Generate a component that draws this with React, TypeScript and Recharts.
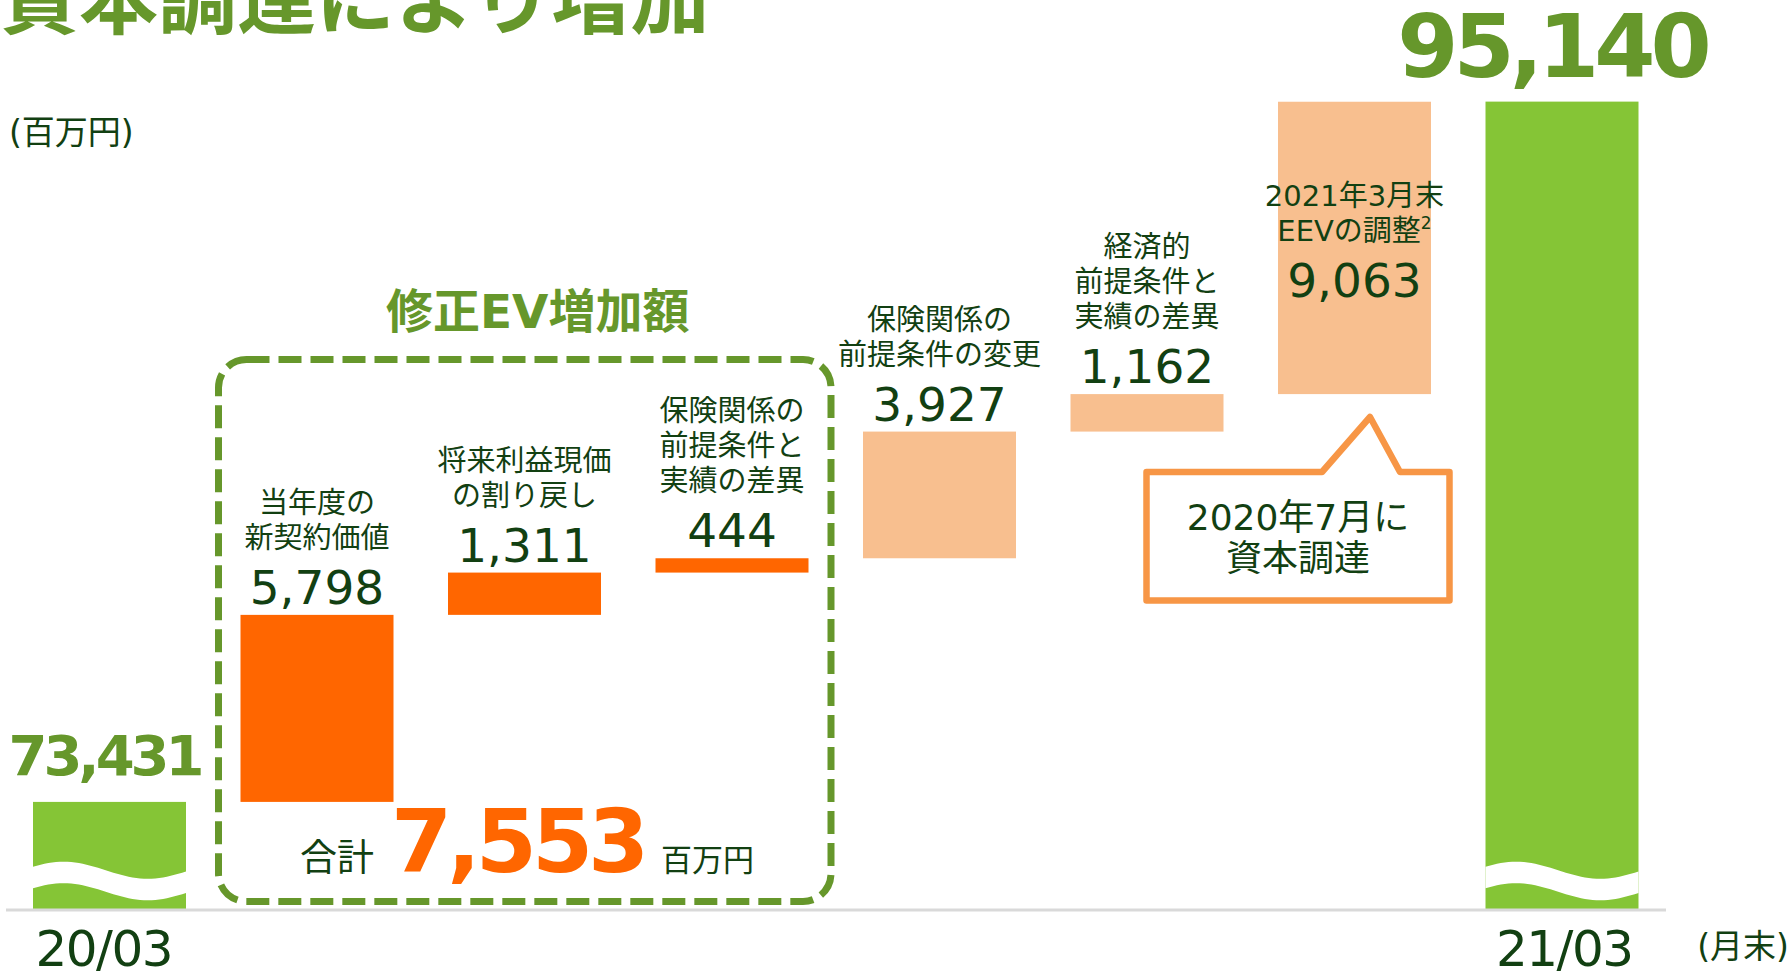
import React from 'react';
import { BarChart, Bar, XAxis, YAxis, Cell } from 'recharts';

// ---- data ----
const categories = [
  '20/03',
  '当年度の新契約価値',
  '将来利益現価の割り戻し',
  '保険関係の前提条件と実績の差異',
  '保険関係の前提条件の変更',
  '経済的前提条件と実績の差異',
  '2021年3月末EEVの調整',
  '21/03',
];
const values = [73431, 5798, 1311, 444, 3927, 1162, 9063, 95140];
const kinds = ['total', 'ev', 'ev', 'ev', 'other', 'other', 'other', 'total'];
const labelLines = [
  [],
  ['当年度の', '新契約価値'],
  ['将来利益現価', 'の割り戻し'],
  ['保険関係の', '前提条件と', '実績の差異'],
  ['保険関係の', '前提条件の変更'],
  ['経済的', '前提条件と', '実績の差異'],
  ['2021年3月末', 'EEVの調整'],
  [],
];
const footnoteMarks = ['', '', '', '', '', '', '2', ''];
const tickLabels = ['20/03', '', '', '', '', '', '', '21/03'];
const yDomain = [70080, 97980];

// ---- styles ----
const W = 1791;
const H = 972;
const MARGIN = { top: 10, right: 125, bottom: 2, left: 6 };
const X_AXIS_H = 60;
const PLOT_LEFT = MARGIN.left;
const PLOT_W = W - MARGIN.left - MARGIN.right;
const BAND = PLOT_W / categories.length;

const COLORS: Record<string, string> = { total: '#85c536', ev: '#ff6600', other: '#f8bf8f' };
const OLIVE = '#66972b';
const DARK = '#124012';
const CALLOUT = '#f79646';
const NUM_FONT = "'DejaVu Sans', 'Noto Sans CJK JP', sans-serif";
const JP_FONT = "'DejaVu Sans', 'Noto Sans CJK JP', sans-serif";
const JP_ONLY = "'Noto Sans CJK JP', sans-serif";

let running = 0;
const data = categories.map((name, i) => {
  let range: number[];
  if (kinds[i] === 'total') {
    range = [yDomain[0], values[i]];
    running = values[i];
  } else {
    range = [running, running + values[i]];
    running += values[i];
  }
  return {
    name,
    range,
    value: values[i],
    kind: kinds[i],
    lines: labelLines[i],
    mark: footnoteMarks[i],
    tick: tickLabels[i],
    idx: i,
  };
});

const evTotal = values.filter((_, i) => kinds[i] === 'ev').reduce((a, b) => a + b, 0);
const fmt = (v: number) => v.toLocaleString('en-US');

const BarShape = (props: any) => {
  const { x, y, width, height, payload } = props;
  const top = Math.min(y, y + height);
  const h = Math.abs(height);
  const bottom = top + h;
  const cx = x + width / 2;
  const fill = COLORS[payload.kind];
  const els: any[] = [<rect key="r" x={x} y={top} width={width} height={h} fill={fill} />];

  if (payload.kind === 'total') {
    // wavy break
    const n = 40;
    const up: string[] = [];
    const lo: string[] = [];
    for (let k = 0; k <= n; k++) {
      const u = k / n;
      const c = bottom - 29 - 8.5 * Math.cos((2 * Math.PI * (u - 0.2)) / 1.1);
      up.push(`${x + u * width},${c - 10.75}`);
      lo.unshift(`${x + u * width},${c + 10.75}`);
    }
    els.push(<polygon key="w" points={[...up, ...lo].join(' ')} fill="#ffffff" />);
    const isLast = payload.idx === categories.length - 1;
    els.push(
      <text
        key="t"
        x={isLast ? cx - 10 : cx - 5}
        y={isLast ? top - 25 : top - 27}
        textAnchor="middle"
        fontFamily={NUM_FONT}
        fontWeight={700}
        fontSize={isLast ? 88 : 56}
        letterSpacing={isLast ? -5 : -4}
        fill={OLIVE}
      >
        {fmt(payload.value)}
      </text>
    );
  } else {
    const inside = h > 200;
    const numBase = inside ? top + 195 : top - 11;
    els.push(
      <text key="n" x={cx} y={numBase} textAnchor="middle" fontFamily={NUM_FONT} fontSize={47} fill={DARK}>
        {fmt(payload.value)}
      </text>
    );
    const lines: string[] = payload.lines;
    lines.forEach((ln, k) => {
      const base = numBase - 56 - 35 * (lines.length - 1 - k);
      const isLastLine = k === lines.length - 1;
      els.push(
        <text key={'l' + k} x={cx} y={base} textAnchor="middle" fontFamily={JP_FONT} fontSize={29} fill={DARK}>
          {ln}
          {isLastLine && payload.mark ? (
            <tspan fontSize={17} dy={-12}>
              {payload.mark}
            </tspan>
          ) : null}
        </text>
      );
    });
  }
  return <g>{els}</g>;
};

const Tick = (props: any) => {
  const { x, y, index } = props;
  const label = tickLabels[index];
  if (!label) return <g />;
  const dx = index === 0 ? -6 : 2;
  return (
    <text x={x + dx} y={y + 48} textAnchor="middle" fontFamily={NUM_FONT} fontSize={50} letterSpacing={-1.5} fill={DARK}>
      {label}
    </text>
  );
};

export default function App() {
  const boxX1 = PLOT_LEFT + BAND * 1 + 5;
  const boxX2 = PLOT_LEFT + BAND * 4 - 5;
  const boxY1 = 359.5;
  const boxY2 = 901.5;
  const boxCx = (boxX1 + boxX2) / 2;

  const cL = 1146.5, cR = 1449.5, cT = 472, cB = 600.5;
  const calloutPath = `M ${cL} ${cT} L 1322 ${cT} L 1370 417 L 1400 ${cT} L ${cR} ${cT} L ${cR} ${cB} L ${cL} ${cB} Z`;

  return (
    <div style={{ position: 'absolute', left: 0, top: 0, width: W, height: H, background: '#fff' }}>
      <BarChart width={W} height={H} data={data} margin={MARGIN} barSize={153}>
        <XAxis
          dataKey="name"
          height={X_AXIS_H}
          tickLine={false}
          axisLine={{ stroke: '#d9d9d9', strokeWidth: 3 }}
          tick={<Tick />}
          interval={0}
        />
        <YAxis hide width={0} type="number" domain={yDomain} allowDataOverflow />
        <Bar dataKey="range" isAnimationActive={false} shape={<BarShape />}>
          {data.map((d, i) => (
            <Cell key={i} fill={COLORS[d.kind]} />
          ))}
        </Bar>
      </BarChart>
      <svg width={W} height={H} style={{ position: 'absolute', left: 0, top: 0, pointerEvents: 'none' }}>
        <text x={0} y={28} fontFamily={JP_ONLY} fontWeight={700} fontSize={79} fill={OLIVE}>
          資本調達により増加
        </text>
        <text x={9} y={144} fontFamily={JP_FONT} fontSize={33} fill={DARK}>
          (百万円)
        </text>
        <text x={1789} y={958} textAnchor="end" fontFamily={JP_FONT} fontSize={33} fill={DARK}>
          (月末)
        </text>
        <text x={boxCx + 13} y={328} textAnchor="middle" fontFamily={JP_FONT} fontWeight={700} fontSize={47} fill={OLIVE}>
          修正EV増加額
        </text>
        <rect
          x={boxX1}
          y={boxY1}
          width={boxX2 - boxX1}
          height={boxY2 - boxY1}
          rx={28}
          ry={28}
          fill="none"
          stroke={OLIVE}
          strokeWidth={7}
          strokeDasharray="23 9"
        />
        <text x={300} y={871} fontFamily={JP_ONLY} fontSize={37} fill={DARK}>
          合計
        </text>
        <text x={391} y={872} fontFamily={NUM_FONT} fontWeight={700} fontSize={88} letterSpacing={-5} fill="#ff6600">
          {fmt(evTotal)}
        </text>
        <text x={661} y={871} fontFamily={JP_ONLY} fontSize={31} fill={DARK}>
          百万円
        </text>
        <path d={calloutPath} fill="#fff" stroke={CALLOUT} strokeWidth={6.5} strokeLinejoin="round" />
        <text x={1298} y={530} textAnchor="middle" fontFamily={JP_FONT} fontSize={36} fill={DARK}>
          2020年7月に
        </text>
        <text x={1298} y={571} textAnchor="middle" fontFamily={JP_FONT} fontSize={36} fill={DARK}>
          資本調達
        </text>
      </svg>
    </div>
  );
}
